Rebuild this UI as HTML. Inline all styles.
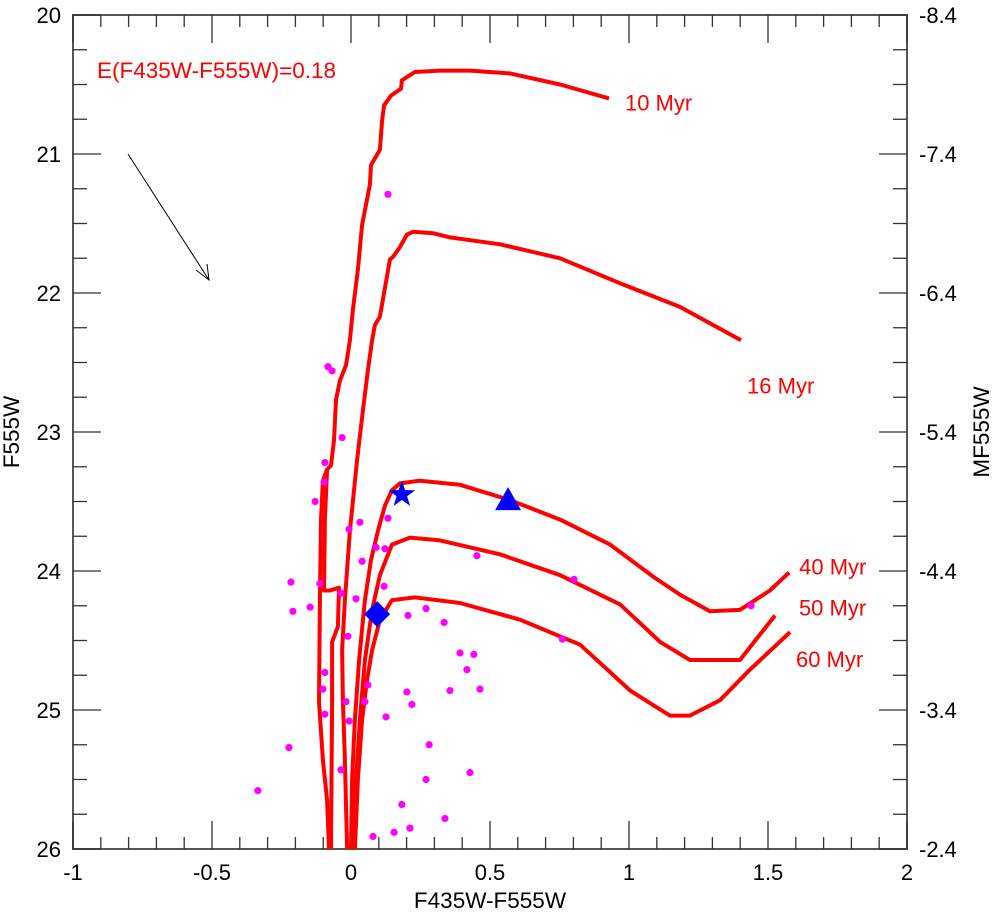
<!DOCTYPE html>
<html><head><meta charset="utf-8"><style>
body{margin:0;background:#fff}
svg{display:block;font-family:"Liberation Sans",Arial,sans-serif}
</style></head><body>
<svg id="chart" width="1000" height="916" viewBox="0 0 1000 916" xmlns="http://www.w3.org/2000/svg">
<g id="axes"></g>
<g id="curves"></g>
<g id="dots"></g>
<g id="marks"></g>
<text x="97" y="78" font-size="22.5" fill="#ff0000">E(F435W-F555W)=0.18</text>
<g stroke="#000" stroke-width="1" fill="none">
<line x1="128" y1="154" x2="209" y2="280"/>
<polyline points="196,270 209,280 207,264"/>
</g>
<text x="490" y="908" font-size="22.5" text-anchor="middle">F435W-F555W</text>
<text x="0" y="0" font-size="22.5" text-anchor="middle" transform="translate(19,432) rotate(-90)">F555W</text>
<text x="0" y="0" font-size="22.5" text-anchor="middle" transform="translate(989,432) rotate(-90)">MF555W</text>
</svg>
<script>
const xTicks=[-1,-0.5,0,0.5,1,1.5,2];
const xTickLabels=["-1","-0.5","0","0.5","1","1.5","2"];
const yTicks=[20,21,22,23,24,25,26];
const yTickLabels=["20","21","22","23","24","25","26"];
const rTickLabels=["-8.4","-7.4","-6.4","-5.4","-4.4","-3.4","-2.4"];
const iso10x=[-0.079,-0.086,-0.101,-0.115,-0.112,-0.108,-0.101,-0.086,-0.072,-0.061,-0.054,-0.040,-0.018,-0.004,0.007,0.025,0.040,0.068,0.072,0.104,0.112,0.119,0.144,0.180,0.183,0.230,0.320,0.428,0.572,0.752,0.928];
const iso10y=[26.00,25.65,25.36,24.94,24.21,23.63,23.35,23.27,23.24,23.06,22.77,22.63,22.52,22.34,22.12,21.83,21.51,21.22,21.08,20.97,20.76,20.65,20.58,20.53,20.47,20.41,20.40,20.40,20.42,20.50,20.60];
const iso10bx=[-0.086,-0.094,-0.097,-0.076,-0.043,-0.047,-0.068,-0.068,-0.072];
const iso10by=[23.27,23.63,24.14,24.14,24.12,24.40,24.51,24.93,26.00];
const iso16x=[-0.014,-0.022,-0.029,-0.032,-0.022,-0.004,0.022,0.043,0.061,0.076,0.086,0.104,0.140,0.151,0.176,0.201,0.223,0.295,0.356,0.536,0.752,0.968,1.183,1.403];
const iso16y=[26.00,25.36,24.93,24.57,24.21,23.71,23.20,22.84,22.55,22.34,22.23,22.17,21.76,21.74,21.67,21.58,21.56,21.57,21.60,21.65,21.75,21.93,22.10,22.34];
const iso40x=[0.000,0.004,0.014,0.029,0.050,0.072,0.097,0.122,0.147,0.176,0.248,0.392,0.572,0.752,0.932,1.094,1.183,1.291,1.399,1.507,1.576];
const iso40y=[26.00,25.50,25.07,24.64,24.21,23.92,23.71,23.53,23.42,23.37,23.35,23.38,23.49,23.63,23.81,24.05,24.17,24.29,24.28,24.14,24.01];
const iso50x=[0.007,0.018,0.032,0.050,0.076,0.104,0.147,0.212,0.320,0.536,0.752,0.968,1.112,1.219,1.399,1.525];
const iso50y=[26.00,25.50,25.07,24.64,24.28,24.03,23.81,23.76,23.78,23.88,24.03,24.24,24.51,24.64,24.64,24.32];
const iso60x=[0.014,0.025,0.040,0.058,0.076,0.104,0.147,0.230,0.392,0.608,0.824,1.004,1.083,1.147,1.219,1.327,1.435,1.579];
const iso60y=[26.00,25.50,25.07,24.78,24.57,24.35,24.21,24.19,24.23,24.35,24.53,24.86,24.96,25.04,25.04,24.93,24.71,24.44];
const dotX=[0.133,-0.083,-0.068,-0.032,-0.094,-0.097,-0.129,0.133,-0.007,0.032,0.090,0.122,0.040,0.453,-0.216,-0.112,-0.036,0.018,0.119,-0.209,-0.147,0.205,0.270,0.335,-0.011,0.392,0.442,0.417,-0.094,-0.101,0.061,0.201,0.356,0.464,-0.018,0.050,0.219,-0.094,-0.007,0.126,-0.223,0.281,-0.036,0.270,0.428,0.183,0.338,0.079,0.155,0.212,-0.335,0.802,1.439,0.760];
const dotY=[21.29,22.53,22.56,23.04,23.22,23.36,23.50,23.62,23.70,23.65,23.83,23.84,23.93,23.89,24.08,24.09,24.16,24.20,24.11,24.29,24.26,24.32,24.27,24.37,24.47,24.59,24.60,24.71,24.73,24.85,24.82,24.87,24.86,24.85,24.94,24.94,24.96,25.03,25.08,25.05,25.27,25.25,25.43,25.50,25.45,25.68,25.78,25.91,25.88,25.85,25.58,24.06,24.25,24.49];
const starPt=[0.183,23.45];
const triPt=[0.565,23.49];
const diaPt=[0.094,24.31];
const isoLabels=["10 Myr","16 Myr","40 Myr","50 Myr","60 Myr"];

const L=73,R=907,T=15,B=849;
const sx=v=>L+(v-(-1))/3*(R-L);
const sy=v=>T+(v-20)/6*(B-T);
const NS="http://www.w3.org/2000/svg";
function mk(tag,parent,attrs){const e=document.createElementNS(NS,tag);for(const k in attrs)e.setAttribute(k,attrs[k]);parent.appendChild(e);return e;}

const ax=document.getElementById('axes');
const frame=mk('rect',ax,{x:L,y:T,width:R-L,height:B-T,fill:'none',stroke:'#555','stroke-width':2});


for(let i=0;i<=30;i++){const v=-1+i*0.1;const x=sx(v);const major=i%5===0;const len=major?28:12;
 const t1=mk('line',ax,{x1:x,y1:B,x2:x,y2:B-len,stroke:'#333','stroke-width':1.3});
 
 
 const t2=mk('line',ax,{x1:x,y1:T,x2:x,y2:T+len,stroke:'#333','stroke-width':1.3});
 
 }
xTicks.forEach((v,i)=>{const t=mk('text',ax,{x:sx(v),y:B+31,'font-size':22,'text-anchor':'middle'});t.textContent=xTickLabels[i];
 
 });
for(let i=0;i<=24;i++){const v=20+i*0.25;const y=sy(v);const major=i%4===0;const len=major?28:14;
 const t1=mk('line',ax,{x1:L,y1:y,x2:L+len,y2:y,stroke:'#333','stroke-width':1.3});
 
 
 const t2=mk('line',ax,{x1:R,y1:y,x2:R-len,y2:y,stroke:'#333','stroke-width':1.3});
 
 }
yTicks.forEach((v,i)=>{const t=mk('text',ax,{x:L-12,y:sy(v)+8,'font-size':22,'text-anchor':'end'});t.textContent=yTickLabels[i];
 
 
 const r=mk('text',ax,{x:R+12,y:sy(v)+8,'font-size':22,'text-anchor':'start'});r.textContent=rTickLabels[i];
 
 });

const cg=document.getElementById('curves');
function curve(xs,ys,name){const d=xs.map((v,i)=>(i?'L':'M')+sx(v).toFixed(1)+','+sy(ys[i]).toFixed(1)).join('');
 const p=mk('path',cg,{d:d,fill:'none',stroke:'#ff0000','stroke-width':4,'stroke-linejoin':'round'});
 
 }
curve(iso10x,iso10y,'isochrone-10myr');
curve(iso10bx,iso10by,'isochrone-10myr-branch');
curve(iso16x,iso16y,'isochrone-16myr');
curve(iso40x,iso40y,'isochrone-40myr');
curve(iso50x,iso50y,'isochrone-50myr');
curve(iso60x,iso60y,'isochrone-60myr');
const lblPos=[[iso10x,iso10y,16,12],[iso16x,iso16y,6,53],[iso40x,iso40y,10,2],[iso50x,iso50y,24,0],[iso60x,iso60y,6,35]];
lblPos.forEach((a,i)=>{const xs=a[0],ys=a[1],n=xs.length-1;
 const t=mk('text',cg,{x:sx(xs[n])+a[2],y:sy(ys[n])+a[3],'font-size':22,fill:'#ff0000'});t.textContent=isoLabels[i];
 
 });

const dg=document.getElementById('dots');
dotX.forEach((v,i)=>{const c=mk('circle',dg,{cx:sx(v),cy:sy(dotY[i]),r:3.6,fill:'#ff00ff'});
 
 });

const mg=document.getElementById('marks');
(function(){const cx=sx(starPt[0]),cy=sy(starPt[1]);let pts=[];
 for(let k=0;k<10;k++){const r=k%2?5.5:14;const a=-Math.PI/2+k*Math.PI/5;pts.push((cx+r*Math.cos(a)).toFixed(1)+','+(cy+r*Math.sin(a)).toFixed(1));}
 const s=mk('polygon',mg,{points:pts.join(' '),fill:'#0000ff'});
 
 
 const tx=sx(triPt[0]),ty=sy(triPt[1]);
 const t=mk('polygon',mg,{points:`${tx},${ty-13} ${tx-13},${ty+10} ${tx+13},${ty+10}`,fill:'#0000ff'});
 
 
 const dx=sx(diaPt[0]),dy=sy(diaPt[1]);
 const d=mk('polygon',mg,{points:`${dx},${dy-13} ${dx+13},${dy} ${dx},${dy+13} ${dx-13},${dy}`,fill:'#0000ff'});
 
 })();
</script>
</body></html>
